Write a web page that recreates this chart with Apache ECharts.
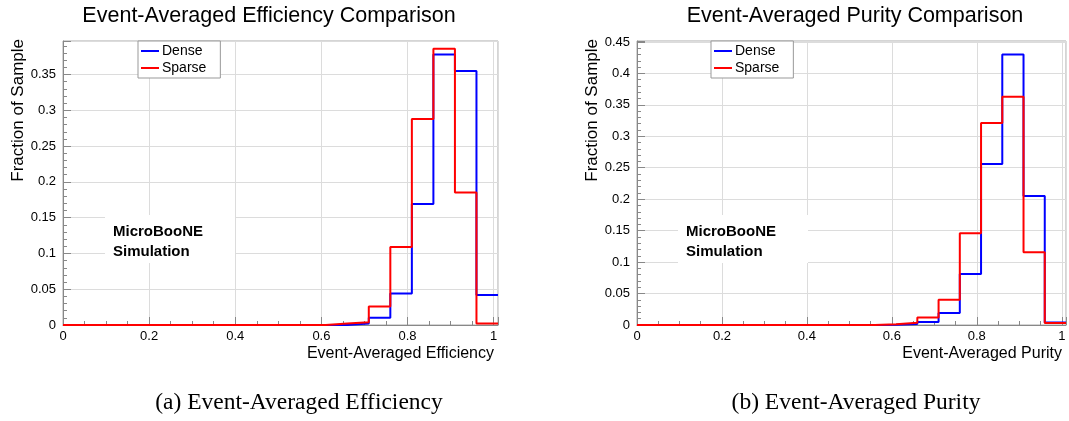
<!DOCTYPE html>
<html><head><meta charset="utf-8">
<script src="https://cdn.jsdelivr.net/npm/echarts@6/dist/echarts.min.js"></script>
<style>html,body{margin:0;padding:0;background:#fff}#c{width:1069px;height:421px}</style>
</head><body><div id="c"></div>
<script>
// Histogram bin edges (both panels share the same binning; all lower bins are empty)
const binEdges = [0.56, 0.61, 0.66, 0.71, 0.76, 0.81, 0.86, 0.91, 0.96, 1.01];
// (a) Event-averaged efficiency
const effDense  = [0, 0, 0.002, 0.010, 0.044, 0.169, 0.378, 0.355, 0.042];
const effSparse = [0, 0.002, 0.004, 0.026, 0.109, 0.288, 0.386, 0.185, 0.002];
// (b) Event-averaged purity
const purDense  = [0.0005, 0.0016, 0.0048, 0.019, 0.081, 0.256, 0.430, 0.205, 0.004];
const purSparse = [0.001, 0.0037, 0.012, 0.040, 0.146, 0.321, 0.363, 0.1155, 0.003];
const seriesNames = ['Dense', 'Sparse'];
const panelTitles = ['Event-Averaged Efficiency Comparison', 'Event-Averaged Purity Comparison'];
const xTitles = ['Event-Averaged Efficiency', 'Event-Averaged Purity'];
const captions = ['(a) Event-Averaged Efficiency', '(b) Event-Averaged Purity'];
const yTitle = 'Fraction of Sample';
const xMin = 0, xMax = 1.01, xStep = 0.2, yStep = 0.05;

function stepData(edges, vals) {
  const pts = [[xMin, 0]];
  vals.forEach((v, i) => pts.push([edges[i], v]));
  pts.push([edges[edges.length - 1], vals[vals.length - 1]]);
  return pts;
}
function isMult(v, s) { const r = v / s; return Math.abs(r - Math.round(r)) < 1e-6; }

const SANS = 'Liberation Sans';
const grids = [
  { left: 63, top: 41, width: 435, height: 284 },
  { left: 637, top: 41, width: 432, height: 284 }
];
const yMaxes = [Math.max(...effDense) * 1.05, Math.max(...purDense) * 1.05];

const xAxes = [0, 1].map(i => ({
  type: 'value', gridIndex: i, min: xMin, max: xMax, interval: xStep,
  name: xTitles[i], nameLocation: 'end', nameGap: -4,
  nameTextStyle: { fontFamily: SANS, fontSize: 16, color: '#000', align: 'right', verticalAlign: 'top', padding: [21, 0, 0, 0] },
  axisLine: { lineStyle: { color: '#888' } },
  axisTick: { inside: true, length: 8, lineStyle: { color: '#888' } },
  minorTick: { show: true, splitNumber: 4, length: 4, lineStyle: { color: '#888' } },
  splitLine: { show: true, lineStyle: { color: '#dcdcdc', width: 1 } },
  axisLabel: { fontFamily: SANS, fontSize: 13, color: '#000', margin: 5,
    formatter: v => isMult(v, xStep) ? String(+v.toFixed(1)) : '' }
}));
const yAxes = [0, 1].map(i => ({
  type: 'value', gridIndex: i, min: 0, max: yMaxes[i], interval: yStep,
  name: yTitle, nameLocation: 'end', nameGap: 2, nameRotate: 90,
  nameTextStyle: { fontFamily: SANS, fontSize: 17, color: '#000', align: 'right', verticalAlign: 'bottom', padding: [0, 0, 36, 0] },
  axisLine: { show: true, lineStyle: { color: '#888' } },
  axisTick: { show: true, inside: true, length: 8, lineStyle: { color: '#888' } },
  minorTick: { show: true, splitNumber: 5, length: 4, lineStyle: { color: '#888' } },
  splitLine: { show: true, lineStyle: { color: '#dcdcdc', width: 1 } },
  axisLabel: { fontFamily: SANS, fontSize: 13, color: '#000', margin: 7,
    formatter: v => isMult(v, yStep) ? String(+v.toFixed(2)) : '' }
}));

const colors = ['#0000ff', '#ff0000'];
const panelData = [[effDense, effSparse], [purDense, purSparse]];
const series = [];
[0, 1].forEach(p => {
  [0, 1].forEach(s => {
    series.push({
      name: seriesNames[s], type: 'line', xAxisIndex: p, yAxisIndex: p,
      step: 'end', symbol: 'none', clip: true, animation: false,
      lineStyle: { color: colors[s], width: 2 }, itemStyle: { color: colors[s] },
      data: stepData(binEdges, panelData[p][s]), z: 3 + s
    });
  });
});

const legendBase = {
  orient: 'vertical', top: 41, itemGap: 3, itemWidth: 18, itemHeight: 2, icon: 'rect',
  padding: [3, 14, 3, 3], borderColor: '#999', borderWidth: 1, backgroundColor: '#fff',
  textStyle: { fontFamily: SANS, fontSize: 14, color: '#000', padding: [0, 0, 0, -2] }, data: seriesNames,
  selectedMode: false
};

const titleStyle = { fontFamily: SANS, fontSize: 21.5, fontWeight: 'normal', color: '#000' };
const capStyle = { fontFamily: 'Liberation Serif', fontSize: 23.5, fontWeight: 'normal', color: '#000' };

function mbText(x, y, w, h) {
  return [
    { type: 'rect', left: x, top: y, z: 50, shape: { x: 0, y: 0, width: w, height: h }, style: { fill: '#fff' } },
    { type: 'text', left: x + 8, top: y + 7, z: 51, style: { text: 'MicroBooNE\nSimulation', fill: '#000',
        font: 'bold 15px "Liberation Sans"', lineHeight: 20 } }
  ];
}

const chart = echarts.init(document.getElementById('c'));
chart.setOption({
  animation: false,
  backgroundColor: '#fff',
  title: [
    { text: panelTitles[0], left: 264, top: 0, textAlign: 'center', textStyle: titleStyle },
    { text: panelTitles[1], left: 850, top: 0, textAlign: 'center', textStyle: titleStyle },
    { text: captions[0], left: 294, top: 386, textAlign: 'center', textStyle: capStyle },
    { text: captions[1], left: 851, top: 386, textAlign: 'center', textStyle: capStyle }
  ],
  grid: grids.map(g => Object.assign({ show: true, borderColor: '#aaa', borderWidth: 1, backgroundColor: 'transparent' }, g)),
  xAxis: xAxes,
  yAxis: yAxes,
  legend: [Object.assign({ left: 138 }, legendBase), Object.assign({ left: 711 }, legendBase)],
  series: series,
  graphic: [].concat(mbText(105, 215, 130, 48), mbText(678, 215, 130, 48))
});
</script></body></html>
